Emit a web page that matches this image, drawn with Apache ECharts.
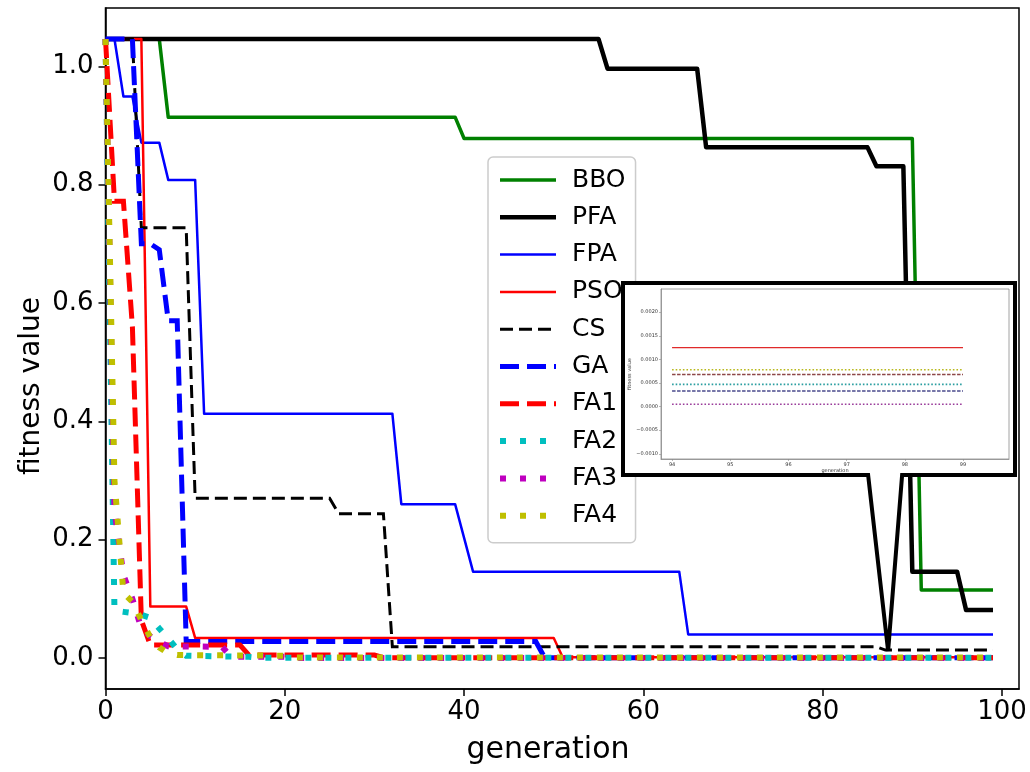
<!DOCTYPE html>
<html>
<head>
<meta charset="utf-8">
<script src="https://cdn.jsdelivr.net/npm/echarts@6/dist/echarts.min.js"></script>
<style>
  html, body { margin: 0; padding: 0; background: #ffffff; }
  #chart { width: 1030px; height: 772px; }
</style>
</head>
<body>
<div id="chart"></div>
<script>
// Best-so-far fitness per generation, stored as [generation, value] break points.
const bbo = [[0, 1.046], [6, 1.046], [7, 0.914], [39, 0.914], [40, 0.878], [90, 0.878], [91, 0.115], [99, 0.115]];
const pfa = [[0, 1.046], [55, 1.046], [56, 0.996], [66, 0.996], [67, 0.863], [85, 0.863], [86, 0.831], [89, 0.831], [90, 0.146], [95, 0.146], [96, 0.081], [99, 0.081]];
const fpa = [[0, 1.046], [1, 1.046], [2, 0.949], [3, 0.949], [4, 0.871], [6, 0.871], [7, 0.808], [10, 0.808], [11, 0.413], [32, 0.413], [33, 0.260], [39, 0.260], [40, 0.203], [41, 0.146], [64, 0.146], [65, 0.040], [99, 0.040]];
const pso = [[0, 1.046], [4, 1.046], [5, 0.087], [9, 0.087], [10, 0.034], [50, 0.034], [51, 0.00125], [99, 0.00125]];
const cs  = [[0, 1.046], [3, 1.046], [4, 0.727], [9, 0.727], [10, 0.270], [25, 0.270], [26, 0.244], [31, 0.244], [32, 0.019], [86, 0.019], [87, 0.0135], [99, 0.0135]];
const ga  = [[0, 1.046], [3, 1.046], [4, 0.700], [5, 0.700], [6, 0.690], [7, 0.570], [8, 0.570], [9, 0.028], [48, 0.028], [49, 0.00033], [99, 0.00033]];
const fa1 = [[0, 1.046], [1, 0.772], [2, 0.772], [3, 0.560], [4, 0.064], [5, 0.022], [15, 0.022], [16, 0.005], [30, 0.005], [31, 0.00068], [99, 0.00068]];
const fa2 = [[0, 1.046], [1, 0.080], [2, 0.078], [3, 0.076], [4, 0.073], [5, 0.068], [6, 0.050], [7, 0.033], [8, 0.015], [9, 0.004], [16, 0.002], [17, 0.00047], [99, 0.00047]];
const fa3 = [[0, 1.046], [1, 0.250], [2, 0.140], [3, 0.100], [4, 0.050], [5, 0.037], [6, 0.027], [7, 0.020], [13, 0.019], [14, 0.002], [20, 0.002], [21, 0.00005], [99, 0.00005]];
const fa4 = [[0, 1.046], [1, 0.300], [2, 0.110], [3, 0.095], [4, 0.064], [5, 0.035], [6, 0.018], [7, 0.008], [8, 0.005], [20, 0.004], [21, 0.00078], [99, 0.00078]];

// Axis ticks
const xTicks = [0, 20, 40, 60, 80, 100];
const yTicks = [0, 0.2, 0.4, 0.6, 0.8, 1.0];
const insetGenerations = [94, 95, 96, 97, 98, 99];
const insetYTicks = [-0.0010, -0.0005, 0, 0.0005, 0.0010, 0.0015, 0.0020];

const FONT = 'DejaVu Sans';

// Value held at generation g (last break point at or before g).
function valueAt(points, g) {
  let v = points[0][1];
  for (const p of points) { if (p[0] <= g) v = p[1]; }
  return v;
}

const DASH = [13, 6];
const LONG_DASH = [19, 8];
const DOT = [6, 14];

const mainLines = [
  { name: 'BBO', data: bbo, color: '#008000', width: 3.5, type: 'solid' },
  { name: 'PFA', data: pfa, color: '#000000', width: 4.5, type: 'solid' },
  { name: 'FPA', data: fpa, color: '#0000ff', width: 2.5, type: 'solid' },
  { name: 'PSO', data: pso, color: '#ff0000', width: 2.5, type: 'solid' },
  { name: 'CS',  data: cs,  color: '#000000', width: 3,   type: DASH },
  { name: 'GA',  data: ga,  color: '#0000ff', width: 5,   type: LONG_DASH },
  { name: 'FA1', data: fa1, color: '#ff0000', width: 5,   type: LONG_DASH },
  { name: 'FA2', data: fa2, color: '#00bfbf', width: 6,   type: DOT },
  { name: 'FA3', data: fa3, color: '#bf00bf', width: 6,   type: DOT },
  { name: 'FA4', data: fa4, color: '#bfbf00', width: 6,   type: DOT }
];

// Zoomed view of the last generations
const insetLines = [
  { src: pso, color: '#e02a2a', width: 1.2, type: 'solid' },
  { src: fa4, color: '#b8b81c', width: 1.6, type: [1.6, 2] },
  { src: fa1, color: '#8c4646', width: 1.4, type: [3.5, 1.5] },
  { src: fa2, color: '#2a9ea0', width: 1.6, type: [1.6, 2] },
  { src: ga,  color: '#4a4a8c', width: 1.4, type: [3.5, 1.5] },
  { src: fa3, color: '#9a3c9a', width: 1.6, type: [1.6, 2] }
];

const series = mainLines.map(s => ({
  type: 'line', name: s.name, data: s.data,
  xAxisIndex: 0, yAxisIndex: 0,
  symbol: 'none', showSymbol: false, clip: true, z: 2,
  lineStyle: { color: s.color, width: s.width, type: s.type, cap: 'butt', join: s.type === 'solid' ? 'round' : 'miter' },
  itemStyle: { color: s.color },
  emphasis: { disabled: true }
})).concat(insetLines.map(s => ({
  type: 'line',
  data: insetGenerations.map(g => [g, valueAt(s.src, g)]),
  xAxisIndex: 1, yAxisIndex: 1,
  symbol: 'none', showSymbol: false, clip: true, z: 22,
  lineStyle: { color: s.color, width: s.width, type: s.type, cap: 'butt' },
  emphasis: { disabled: true }
})));

const chart = echarts.init(document.getElementById('chart'), null, { renderer: 'canvas' });

const option = {
  animation: false,
  backgroundColor: '#ffffff',
  grid: [
    { left: 105.5, right: 11, top: 8, bottom: 83, show: true, borderColor: '#000000', borderWidth: 1.5, backgroundColor: 'transparent', containLabel: false },
    { left: 661, right: 21, top: 289, bottom: 313, show: true, borderColor: '#8a8a8a', borderWidth: 0.8, backgroundColor: 'transparent', z: 21 }
  ],
  xAxis: [
    {
      gridIndex: 0, type: 'value', min: 0, max: 101.9,
      axisLine: { show: true, onZero: false, lineStyle: { color: '#000000', width: 1.5 } },
      axisTick: { show: true, length: 7, lineStyle: { color: '#000000', width: 1.5 }, customValues: xTicks },
      axisLabel: { customValues: xTicks, fontFamily: FONT, fontSize: 26, color: '#000000', margin: 10, formatter: v => String(v) },
      splitLine: { show: false }
    },
    {
      gridIndex: 1, type: 'value', min: 93.81, max: 99.79, z: 21,
      name: 'generation', nameLocation: 'middle', nameGap: 9,
      nameTextStyle: { fontFamily: FONT, fontSize: 5, color: '#333333' },
      axisLine: { show: true, onZero: false, lineStyle: { color: '#8a8a8a', width: 0.8 } },
      axisTick: { show: true, length: 2, lineStyle: { color: '#8a8a8a', width: 0.6 }, customValues: insetGenerations },
      axisLabel: { customValues: insetGenerations, fontFamily: FONT, fontSize: 5, color: '#333333', margin: 3, formatter: v => String(v) },
      splitLine: { show: false }
    }
  ],
  yAxis: [
    {
      gridIndex: 0, type: 'value', min: -0.0523, max: 1.0985,
      axisLine: { show: true, onZero: false, lineStyle: { color: '#000000', width: 1.5 } },
      axisTick: { show: true, length: 7, lineStyle: { color: '#000000', width: 1.5 }, customValues: yTicks },
      axisLabel: { customValues: yTicks, fontFamily: FONT, fontSize: 26, color: '#000000', margin: 12, formatter: v => v.toFixed(1) },
      splitLine: { show: false }
    },
    {
      gridIndex: 1, type: 'value', min: -0.00111, max: 0.00249, z: 21,
      name: 'fitness value', nameLocation: 'middle', nameGap: 26, nameRotate: 90,
      nameTextStyle: { fontFamily: FONT, fontSize: 5, color: '#333333' },
      axisLine: { show: true, onZero: false, lineStyle: { color: '#8a8a8a', width: 0.8 } },
      axisTick: { show: true, length: 2, lineStyle: { color: '#8a8a8a', width: 0.6 }, customValues: insetYTicks },
      axisLabel: { customValues: insetYTicks, fontFamily: FONT, fontSize: 5, color: '#333333', margin: 3,
        formatter: v => v.toFixed(4).replace('-', '\u2212') },
      splitLine: { show: false }
    }
  ],
  legend: {
    orient: 'vertical', left: 488, top: 157,
    data: mainLines.map(s => ({
      name: s.name,
      lineStyle: { width: s.width, type: s.type, cap: 'butt', color: s.color }
    })),
    itemWidth: 56, itemHeight: 14, itemGap: 11.3,
    padding: [10, 10, 14, 9],
    backgroundColor: 'rgba(255,255,255,0.85)', borderColor: '#cccccc', borderWidth: 1.5, borderRadius: 5,
    textStyle: { fontFamily: FONT, fontSize: 25, color: '#000000', lineHeight: 26, padding: [0, 0, 0, 11] },
    itemStyle: { opacity: 0 },
    selectedMode: false, z: 4
  },
  series: series
};

chart.setOption(option);

// Axis titles and the call-out frame around the zoomed view; its tail points at the end of the runs.
const tip = chart.convertToPixel({ gridIndex: 0 }, [87.3, 0.012]);
chart.setOption({
  graphic: [
    {
      id: 'xTitle', type: 'text', x: 548, y: 750, silent: true, z: 5,
      style: { text: 'generation', fontFamily: FONT, fontSize: 30, fill: '#000000', align: 'center', verticalAlign: 'middle' }
    },
    {
      id: 'yTitle', type: 'text', x: 32, y: 386, rotation: Math.PI / 2, silent: true, z: 5,
      style: { text: 'fitness value', fontFamily: FONT, fontSize: 28, fill: '#000000', align: 'center', verticalAlign: 'middle' }
    },
    {
      id: 'callout', type: 'polygon', z: 10, silent: true,
      shape: { points: [[623, 283], [1015, 283], [1015, 475], [tip[0] + 14, 475], tip, [tip[0] - 20, 475], [623, 475]] },
      style: { fill: '#ffffff', stroke: '#000000', lineWidth: 4, lineJoin: 'miter' }
    }
  ]
});
</script>
</body>
</html>
